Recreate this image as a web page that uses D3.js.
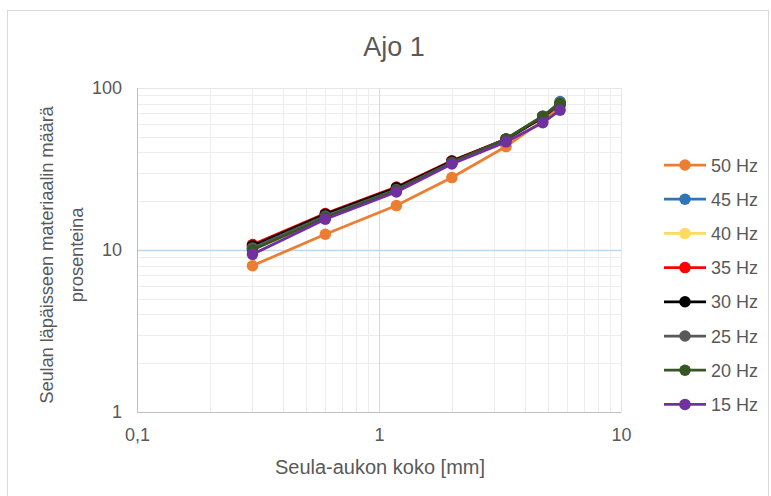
<!DOCTYPE html>
<html><head><meta charset="utf-8">
<script src="https://cdn.jsdelivr.net/npm/d3@7"></script>
<style>body{margin:0;background:#fff;} svg{display:block;font-family:"Liberation Sans",Arial,sans-serif;}</style>
</head><body>
<svg id="c" width="771" height="496"></svg>
<script>
const sieveSizes = [0.3, 0.6, 1.18, 2.0, 3.35, 4.75, 5.6];
const seriesNames = ["50 Hz","45 Hz","40 Hz","35 Hz","30 Hz","25 Hz","20 Hz","15 Hz"];
const seriesColors = ["#ED7D31","#2E75B6","#FFD966","#FF0000","#000000","#595959","#375623","#7030A0"];
const hz50 = [8.0, 12.5, 18.8, 28.0, 43.5, 63, 77];
const hz45 = [10.2, 16.0, 23.5, 34.5, 48.0, 66, 82.5];
const hz40 = [10.3, 16.2, 23.8, 35.0, 48.0, 66, 81];
const hz35 = [10.8, 16.8, 24.5, 35.5, 48.5, 66, 80];
const hz30 = [10.6, 16.6, 24.2, 35.3, 48.3, 66, 80];
const hz25 = [10.3, 16.2, 23.6, 34.8, 48.5, 67, 80];
const hz20 = [10.0, 15.8, 23.3, 34.5, 48.5, 67, 81];
const hz15 = [9.4, 15.5, 22.8, 34.0, 46.5, 61, 73];
const seriesValues = [hz50, hz45, hz40, hz35, hz30, hz25, hz20, hz15];
const xTicks = [0.1, 1, 10];
const xTickLabels = ["0,1", "1", "10"];
const yTicks = [1, 10, 100];
const yTickLabels = ["1", "10", "100"];

const svg = d3.select("#c");
const L = 137, R = 621, T = 88, B = 412;
const x = d3.scaleLog().domain([0.1, 10]).range([L, R]);
const y = d3.scaleLog().domain([1, 100]).range([B, T]);
const txt = "#595959";

// chart border
svg.append("rect").attr("x", 7.5).attr("y", 10.5).attr("width", 761).attr("height", 490)
  .attr("fill", "none").attr("stroke", "#D9D9D9").attr("stroke-width", 1);

// minor grid
const minorX = [], minorY = [];
for (let d = 0.1; d < 10; d *= 10) for (let k = 2; k <= 9; k++) minorX.push(+(d * k).toFixed(3));
for (let d = 1; d < 100; d *= 10) for (let k = 2; k <= 9; k++) minorY.push(d * k);
const g = svg.append("g");
g.selectAll(".mx").data(minorX).join("line")
  .attr("x1", d => Math.round(x(d)) + 0.5).attr("x2", d => Math.round(x(d)) + 0.5)
  .attr("y1", T).attr("y2", B).attr("stroke", "#EDEDED");
g.selectAll(".my").data(minorY).join("line")
  .attr("y1", d => Math.round(y(d)) + 0.5).attr("y2", d => Math.round(y(d)) + 0.5)
  .attr("x1", L).attr("x2", R).attr("stroke", "#EDEDED");
// major grid
g.append("line").attr("x1", Math.round(x(1)) + 0.5).attr("x2", Math.round(x(1)) + 0.5)
  .attr("y1", T).attr("y2", B).attr("stroke", "#D9D9D9");
g.append("line").attr("x1", Math.round(x(10)) + 0.5).attr("x2", Math.round(x(10)) + 0.5)
  .attr("y1", T).attr("y2", B).attr("stroke", "#E6E6E6");
g.append("line").attr("y1", Math.round(y(100)) + 0.5).attr("y2", Math.round(y(100)) + 0.5)
  .attr("x1", L).attr("x2", R).attr("stroke", "#E6E6E6");
g.append("line").attr("y1", Math.round(y(10)) + 0.5).attr("y2", Math.round(y(10)) + 0.5)
  .attr("x1", L).attr("x2", R).attr("stroke", "#BDD7EE").attr("stroke-width", 1.5);
// axes lines
g.append("line").attr("x1", L + 0.5).attr("x2", L + 0.5).attr("y1", T).attr("y2", B).attr("stroke", "#BFBFBF");
g.append("line").attr("x1", L).attr("x2", R).attr("y1", B + 0.5).attr("y2", B + 0.5).attr("stroke", "#BFBFBF");

// tick labels via axes
const xAxis = d3.axisBottom(x).tickValues(xTicks).tickSize(0).tickPadding(16)
  .tickFormat((d, i) => xTickLabels[i]);
const xa = svg.append("g").attr("transform", `translate(0,${B})`).call(xAxis);
xa.select(".domain").remove();
xa.selectAll("text").attr("fill", txt).attr("font-size", 18).attr("font-family", "Liberation Sans, Arial, sans-serif");
const yAxis = d3.axisLeft(y).tickValues(yTicks).tickSize(0).tickPadding(15)
  .tickFormat((d, i) => yTickLabels[i]);
const ya = svg.append("g").attr("transform", `translate(${L},0)`).call(yAxis);
ya.select(".domain").remove();
ya.selectAll("text").attr("fill", txt).attr("font-size", 18).attr("font-family", "Liberation Sans, Arial, sans-serif");

// series
const line = d3.line().x((d, i) => x(sieveSizes[i])).y(d => y(d));
seriesValues.forEach((vals, si) => {
  const sg = svg.append("g");
  sg.append("path").datum(vals).attr("d", line).attr("fill", "none")
    .attr("stroke", seriesColors[si]).attr("stroke-width", 2.75).attr("stroke-linejoin", "round");
  sg.selectAll("circle").data(vals).join("circle")
    .attr("cx", (d, i) => x(sieveSizes[i])).attr("cy", d => y(d)).attr("r", 5.75)
    .attr("fill", seriesColors[si]);
});

// title
svg.append("text").attr("x", 394).attr("y", 56).attr("text-anchor", "middle")
  .attr("font-size", 27).attr("fill", txt).text("Ajo 1");
// axis titles
svg.append("text").attr("x", 380).attr("y", 474).attr("text-anchor", "middle")
  .attr("font-size", 20).attr("fill", txt).text("Seula-aukon koko [mm]");
const yt = svg.append("text").attr("transform", "translate(53,255) rotate(-90)")
  .attr("text-anchor", "middle").attr("font-size", 18.5).attr("fill", txt)
  .attr("letter-spacing", -0.2);
yt.append("tspan").attr("x", 0).attr("dy", 0).text("Seulan läpäisseen materiaalin määrä");
yt.append("tspan").attr("x", 0).attr("dy", 30).text("prosenteina");

// legend
const lg = svg.append("g");
seriesNames.forEach((name, i) => {
  const yy = 165 + i * 34.2;
  lg.append("line").attr("x1", 664).attr("x2", 706).attr("y1", yy).attr("y2", yy)
    .attr("stroke", seriesColors[i]).attr("stroke-width", 2.75);
  lg.append("circle").attr("cx", 685).attr("cy", yy).attr("r", 5.75).attr("fill", seriesColors[i]);
  lg.append("text").attr("x", 711).attr("y", yy + 6.5).attr("font-size", 18)
    .attr("fill", txt).text(name);
});
</script>
</body></html>
